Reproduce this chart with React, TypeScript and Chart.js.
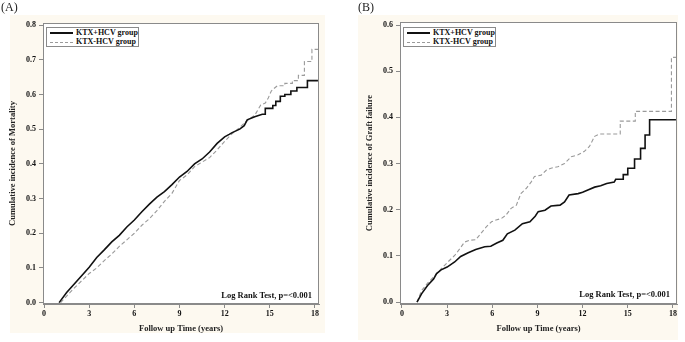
import React, { useEffect, useRef } from "react";
import { Chart, registerables } from "chart.js";

Chart.register(...registerables);

// ---- tick labels ----
const xTicks = [0, 3, 6, 9, 12, 15, 18];
const yTicksMort = [0, 0.1, 0.2, 0.3, 0.4, 0.5, 0.6, 0.7, 0.8];
const yTicksGraft = [0, 0.1, 0.2, 0.3, 0.4, 0.5, 0.6];

const seriesNames = ["KTX+HCV group", "KTX-HCV group"];

// ---- (A) Mortality: KTX+HCV group ----
const mortPosT = [1.0, 1.5, 2.2, 3.0, 3.5, 4.0, 4.5, 5.0, 5.5, 6.0, 6.5, 7.0, 7.5, 8.0, 8.5, 9.0, 9.5, 10.0, 10.5, 11.0, 11.5, 12.0, 12.3, 12.5, 13.0, 13.3, 13.5, 14.0, 14.5, 14.7, 14.7, 15.2, 15.2, 15.4, 15.4, 15.7, 15.7, 16.0, 16.0, 16.4, 16.4, 16.8, 16.8, 17.5, 17.5, 18.2];
const mortPosY = [0, 0.029, 0.063, 0.102, 0.13, 0.152, 0.175, 0.194, 0.218, 0.238, 0.262, 0.284, 0.304, 0.32, 0.34, 0.362, 0.378, 0.4, 0.414, 0.434, 0.459, 0.478, 0.485, 0.49, 0.5, 0.51, 0.527, 0.536, 0.543, 0.543, 0.56, 0.56, 0.568, 0.568, 0.58, 0.58, 0.595, 0.595, 0.6, 0.6, 0.61, 0.61, 0.62, 0.62, 0.64, 0.64];

// ---- (A) Mortality: KTX-HCV group ----
const mortNegT = [1.1, 1.5, 2.0, 2.5, 3.0, 3.5, 4.0, 4.5, 5.0, 5.5, 6.0, 6.5, 7.0, 7.5, 8.0, 8.5, 9.0, 9.5, 10.0, 10.5, 11.0, 11.5, 12.0, 12.5, 13.0, 13.5, 14.0, 14.2, 14.4, 14.7, 14.9, 15.1, 15.3, 15.5, 16.0, 16.0, 16.5, 16.5, 16.9, 16.9, 17.3, 17.3, 17.8, 17.8, 18.2];
const mortNegY = [0, 0.019, 0.042, 0.063, 0.084, 0.1, 0.121, 0.14, 0.162, 0.181, 0.2, 0.223, 0.242, 0.265, 0.292, 0.315, 0.352, 0.368, 0.392, 0.405, 0.418, 0.44, 0.465, 0.487, 0.505, 0.525, 0.54, 0.555, 0.57, 0.575, 0.59, 0.61, 0.618, 0.625, 0.625, 0.632, 0.632, 0.64, 0.64, 0.655, 0.655, 0.695, 0.695, 0.73, 0.73];

// ---- (B) Graft failure: KTX+HCV group ----
const graftPosT = [1.0, 1.3, 1.7, 2.1, 2.3, 2.6, 3.0, 3.5, 3.9, 4.4, 4.9, 5.5, 5.9, 6.3, 6.7, 7.0, 7.5, 8.0, 8.5, 8.85, 9.05, 9.5, 9.9, 10.5, 10.8, 11.1, 11.7, 12.0, 12.35, 12.8, 13.2, 13.6, 14.1, 14.2, 14.7, 14.7, 15.0, 15.0, 15.45, 15.45, 15.85, 15.85, 16.15, 16.15, 16.45, 16.45, 18.2];
const graftPosY = [0, 0.018, 0.036, 0.05, 0.062, 0.07, 0.076, 0.087, 0.099, 0.107, 0.114, 0.12, 0.121, 0.128, 0.134, 0.148, 0.156, 0.17, 0.174, 0.186, 0.196, 0.199, 0.208, 0.21, 0.217, 0.232, 0.235, 0.238, 0.243, 0.249, 0.252, 0.257, 0.26, 0.266, 0.266, 0.276, 0.276, 0.29, 0.29, 0.31, 0.31, 0.333, 0.333, 0.362, 0.362, 0.395, 0.395];

// ---- (B) Graft failure: KTX-HCV group ----
const graftNegT = [1.0, 1.3, 1.7, 2.2, 2.6, 3.05, 3.5, 3.85, 4.15, 4.5, 4.9, 5.25, 5.6, 5.95, 6.25, 6.6, 6.9, 7.25, 7.6, 7.9, 8.25, 8.6, 8.8, 9.25, 9.6, 9.9, 10.35, 10.8, 11.25, 11.7, 12.1, 12.45, 12.8, 13.1, 14.5, 14.5, 15.5, 15.5, 17.9, 17.9, 18.2];
const graftNegY = [0, 0.025, 0.041, 0.058, 0.072, 0.087, 0.101, 0.116, 0.13, 0.134, 0.135, 0.149, 0.163, 0.174, 0.178, 0.181, 0.188, 0.203, 0.21, 0.235, 0.246, 0.261, 0.272, 0.275, 0.286, 0.29, 0.293, 0.3, 0.315, 0.319, 0.326, 0.337, 0.359, 0.364, 0.364, 0.392, 0.392, 0.413, 0.413, 0.53, 0.53];

const SERIF = "'Liberation Serif', 'Times New Roman', serif";
const CREAM = "#fdf9f0";

const toXY = (t: number[], y: number[]) => t.map((v, i) => ({ x: v, y: y[i] }));

const boxPlugin = {
  id: "boxPlugin",
  beforeDraw(chart: any) {
    const { ctx, chartArea: a } = chart;
    ctx.save();
    ctx.fillStyle = "#ffffff";
    ctx.fillRect(a.left, a.top, a.right - a.left, a.bottom - a.top);
    ctx.restore();
  },
  afterDraw(chart: any) {
    const { ctx, chartArea: a } = chart;
    ctx.save();
    ctx.strokeStyle = "#8a8a8a";
    ctx.lineWidth = 1;
    ctx.strokeRect(Math.round(a.left) + 0.5, Math.round(a.top) + 0.5, Math.round(a.right - a.left) - 1, Math.round(a.bottom - a.top) - 1);
    ctx.restore();
  },
};

type PanelProps = {
  left: number;
  width: number;
  yTitle: string;
  yTicks: number[];
  yMax: number;
  xMin: number;
  posT: number[];
  posY: number[];
  negT: number[];
  negY: number[];
  padTop: number;
  padRight: number;
  yWidth: number;
  yTitlePad: number;
};

function Panel(p: PanelProps) {
  const ref = useRef<HTMLCanvasElement | null>(null);
  useEffect(() => {
    if (!ref.current) return;
    const chart = new Chart(ref.current, {
      type: "line",
      data: {
        datasets: [
          {
            label: seriesNames[0],
            data: toXY(p.posT, p.posY),
            borderColor: "#111111",
            borderWidth: 1.6,
            pointRadius: 0,
            tension: 0,
            fill: false,
          },
          {
            label: seriesNames[1],
            data: toXY(p.negT, p.negY),
            borderColor: "#9a9a9a",
            borderWidth: 1.1,
            borderDash: [4, 2.5],
            pointRadius: 0,
            tension: 0,
            fill: false,
          },
        ],
      },
      options: {
        responsive: false,
        animation: false,
        events: [],
        layout: { padding: { top: p.padTop, right: p.padRight, bottom: 8, left: 0 } },
        plugins: { legend: { display: false }, tooltip: { enabled: false } },
        scales: {
          x: {
            type: "linear",
            min: p.xMin,
            max: 18.27,
            afterBuildTicks: (s: any) => {
              s.ticks = xTicks.map((v) => ({ value: v }));
            },
            afterFit: (s: any) => {
              s.height = 30;
            },
            ticks: {
              color: "#111",
              padding: 1,
              maxRotation: 0,
              font: { family: SERIF, size: 8, weight: "bold" },
              callback: (v: any) => String(v),
            },
            grid: { drawOnChartArea: false, drawTicks: true, tickLength: 4, color: "#8a8a8a" },
            border: { display: true, color: "#8a8a8a" },
            title: {
              display: true,
              text: "Follow up Time (years)",
              color: "#222",
              padding: 0,
              font: { family: SERIF, size: 8.5, weight: "bold" },
            },
          },
          y: {
            type: "linear",
            min: -0.004,
            max: p.yMax,
            afterBuildTicks: (s: any) => {
              s.ticks = p.yTicks.map((v) => ({ value: v }));
            },
            afterFit: (s: any) => {
              s.width = p.yWidth;
            },
            ticks: {
              color: "#111",
              padding: 3,
              font: { family: SERIF, size: 8, weight: "bold" },
              callback: (v: any) => Number(v).toFixed(1),
            },
            grid: { drawOnChartArea: false, drawTicks: true, tickLength: 4, color: "#8a8a8a" },
            border: { display: true, color: "#8a8a8a" },
            title: {
              display: true,
              text: p.yTitle,
              color: "#222",
              padding: { top: p.yTitlePad, bottom: 0 },
              font: { family: SERIF, size: 8.5, weight: "bold" },
            },
          },
        },
      },
      plugins: [boxPlugin],
    } as any);
    return () => chart.destroy();
  }, []);
  return (
    <canvas
      ref={ref}
      width={p.width}
      height={342}
      style={{ position: "absolute", left: p.left, top: 0, width: p.width, height: 342, zIndex: 1 }}
    />
  );
}

const legendText: React.CSSProperties = {
  fontFamily: SERIF,
  fontWeight: "bold",
  fontSize: 8,
  color: "#111",
  lineHeight: "10px",
  whiteSpace: "nowrap",
};

function Legend({ left, top }: { left: number; top: number }) {
  return (
    <div
      style={{
        position: "absolute",
        left,
        top,
        width: 93,
        height: 20,
        border: "1px solid #8a8a8a",
        background: "#fff",
        boxSizing: "border-box",
        zIndex: 2,
      }}
    >
      <div style={{ position: "absolute", left: 3, top: 4, width: 23, borderTop: "2px solid #111" }} />
      <div style={{ ...legendText, position: "absolute", left: 29, top: 0 }}>{seriesNames[0]}</div>
      <div style={{ position: "absolute", left: 3, top: 14, width: 23, borderTop: "1px dashed #9a9a9a" }} />
      <div style={{ ...legendText, position: "absolute", left: 29, top: 9 }}>{seriesNames[1]}</div>
    </div>
  );
}

function Note({ right, top }: { right: number; top: number }) {
  return (
    <div style={{ ...legendText, fontSize: 8.5, position: "absolute", left: right - 120, width: 120, textAlign: "right", top, zIndex: 2 }}>
      Log Rank Test, p=&lt;0.001
    </div>
  );
}

const panelLabel: React.CSSProperties = {
  position: "absolute",
  top: 1,
  fontFamily: SERIF,
  fontSize: 12,
  lineHeight: "13px",
  color: "#222",
  zIndex: 3,
};

export default function App() {
  return (
    <div style={{ position: "fixed", left: 0, top: 0, width: 685, height: 342, background: "#fff", overflow: "hidden" }}>
      <div style={{ position: "absolute", left: 10, top: 15, width: 315, height: 318, background: CREAM }} />
      <div style={{ position: "absolute", left: 358, top: 15, width: 320, height: 325, background: CREAM }} />
      <Panel
        left={0}
        width={335}
        yTitle="Cumulative incidence of Mortality"
        yTicks={yTicksMort}
        yMax={0.806}
        xMin={-0.07}
        posT={mortPosT}
        posY={mortPosY}
        negT={mortNegT}
        negY={mortNegY}
        padTop={23}
        padRight={16}
        yWidth={43}
        yTitlePad={8}
      />
      <Panel
        left={345}
        width={340}
        yTitle="Cumulative incidence of Graft failure"
        yTicks={yTicksGraft}
        yMax={0.6065}
        xMin={-0.13}
        posT={graftPosT}
        posY={graftPosY}
        negT={graftNegT}
        negY={graftNegY}
        padTop={22}
        padRight={8}
        yWidth={55}
        yTitlePad={20}
      />
      <div style={{ ...panelLabel, left: 1 }}>(A)</div>
      <div style={{ ...panelLabel, left: 358 }}>(B)</div>
      <Legend left={46} top={27} />
      <Legend left={403} top={27} />
      <Note right={312} top={290} />
      <Note right={670} top={289} />
    </div>
  );
}
